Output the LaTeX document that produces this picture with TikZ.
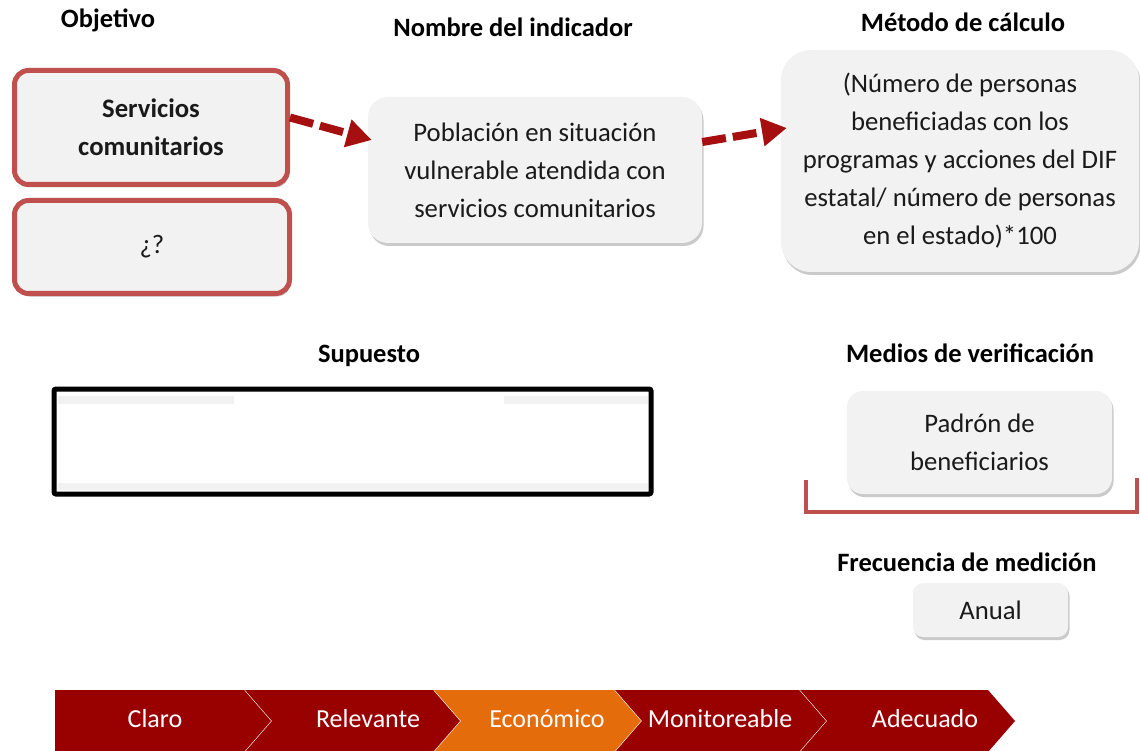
\documentclass[tikz,border=0pt]{standalone}
\usepackage{fontspec}
\setmainfont{Carlito}
\usetikzlibrary{shadows,arrows.meta}
\definecolor{boxred}{HTML}{C0504D}
\definecolor{boxfill}{HTML}{F2F2F2}
\definecolor{arrred}{HTML}{A50F0F}
\definecolor{chevred}{HTML}{990000}
\definecolor{chevorange}{HTML}{E46C0A}
\definecolor{txt}{HTML}{1A1A1A}
\begin{document}
\begin{tikzpicture}[x=1pt,y=-1pt,
  title/.style={font=\fontsize{26.5}{30}\selectfont\bfseries, text=black},
  body/.style={font=\fontsize{26.7}{38}\selectfont, align=center, text=txt},
  softshadow/.style={drop shadow={shadow xshift=1.5pt,shadow yshift=-3pt,opacity=0.35,fill=black!60}},
  redbox/.style={draw=boxred, line width=5pt, fill=boxfill, rounded corners=14pt, softshadow, body},
  graybox/.style={fill=boxfill, softshadow, body},
  flow/.style={draw=arrred, line width=8pt, dash pattern=on 24pt off 7pt, -{Triangle[length=25pt,width=27pt]}},
  chev/.style={draw=white, line width=1.2pt},
  chevtext/.style={text=white, font=\fontsize{26}{30}\selectfont}
]
\useasboundingbox (0,0) rectangle (1140,751);

% titles
\node[title] (tobj) at (108,20) {Objetivo};
\node[title] (tind) at (513,27) {Nombre del indicador};
\node[title] (tmet) at (963,22) {Método de cálculo};
\node[title] (tsup) at (369,356) {Supuesto};
\node[title] (tmed) at (970,353) {Medios de verificación};
\node[title] (tfre) at (967,562) {Frecuencia de medición};

% objective boxes
\node[redbox, minimum width=273pt, minimum height=114pt, font=\fontsize{26.7}{38}\selectfont\bfseries] (obj) at (151,127.5) {Servicios\\comunitarios};
\node[redbox, minimum width=275pt, minimum height=93pt] (q) at (152,247) {¿?};

% indicator
\node[graybox, rounded corners=20pt, minimum width=334pt, minimum height=146pt] (ind) at (535,170) {Población en situación\\vulnerable atendida con\\servicios comunitarios};

% method
\node[graybox, rounded corners=30pt, minimum width=358pt, minimum height=222pt] (met) at (960,161) {(Número de personas\\beneficiadas con los\\programas y acciones del DIF\\estatal/ número de personas\\en el estado)*100};

% arrows
\draw[flow] ([yshift=10pt]obj.east) -- ([xshift=4pt,yshift=30pt]ind.west);
\draw[flow] ([yshift=28pt]ind.east) -- ([xshift=6pt,yshift=33pt]met.west);

% supuesto
\node[draw=black, line width=5pt, fill=white, minimum width=597pt, minimum height=105pt, rounded corners=2pt] (sup) at (352.5,441.5) {};
\fill[boxfill] (58,396) rectangle (234,404);
\fill[boxfill] (504,396) rectangle (648,404);
\fill[boxfill] (58,483) rectangle (648,490);

% medios
\draw[boxred, line width=4pt] (806,480) -- (806,512) -- (1137,512) -- (1137,478);
\node[graybox, rounded corners=16pt, minimum width=265pt, minimum height=103pt] (pad) at (979.5,442.5) {Padrón de\\beneficiarios};

% frecuencia
\node[graybox, rounded corners=10pt, minimum width=155pt, minimum height=54pt] (anu) at (990.5,610) {Anual};

% chevrons
\begin{scope}
\clip (0,0) rectangle (1140,751);
\fill[chevred] (55,690) -- (245,690) -- (272,721) -- (245,752) -- (55,752) -- cycle;
\draw[chev] (245,690) -- (272,721) -- (245,752);
\fill[chevred] (245,690) -- (434,690) -- (461,721) -- (434,752) -- (245,752) -- (272,721) -- cycle;
\draw[chev] (434,690) -- (461,721) -- (434,752);
\fill[chevorange] (434,690) -- (615,690) -- (642,721) -- (615,752) -- (434,752) -- (461,721) -- cycle;
\draw[chev] (615,690) -- (642,721) -- (615,752);
\fill[chevred] (615,690) -- (800,690) -- (827,721) -- (800,752) -- (615,752) -- (642,721) -- cycle;
\draw[chev] (800,690) -- (827,721) -- (800,752);
\fill[chevred] (800,690) -- (988,690) -- (1015,721) -- (988,752) -- (800,752) -- (827,721) -- cycle;
\end{scope}
\node[chevtext] (c1) at (155,719) {Claro};
\node[chevtext] (c2) at (368,719) {Relevante};
\node[chevtext] (c3) at (547,719) {Económico};
\node[chevtext] (c4) at (720,719) {Monitoreable};
\node[chevtext] (c5) at (925,719) {Adecuado};
\end{tikzpicture}
\end{document}
